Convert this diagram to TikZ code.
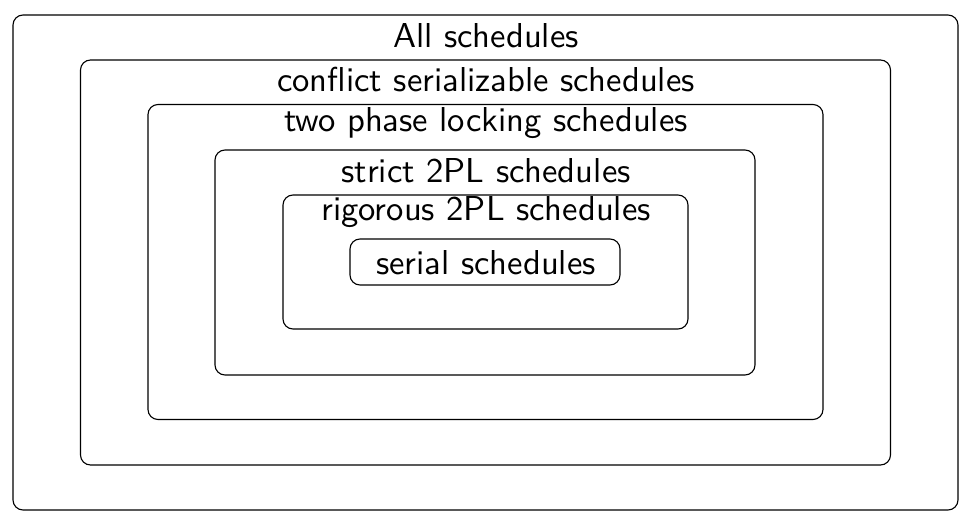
\documentclass[tikz,border=0pt]{standalone}
\renewcommand{\familydefault}{\sfdefault}
\begin{document}
\begin{tikzpicture}[x=1bp,y=-1bp,
  setbox/.style={draw, rounded corners=10bp, line width=1.1bp},
  setlabel/.style={font=\normalsize\sffamily, scale=3.47, inner sep=0pt, anchor=base}]
\useasboundingbox (0,0) rectangle (975,520);
% nested sets of schedules, outermost first
\draw[setbox] (13,15) rectangle (958,510);
\draw[setbox] (80.5,60) rectangle (890.5,465);
\draw[setbox] (148,104.5) rectangle (823,419.5);
\draw[setbox] (215,150) rectangle (755,375);
\draw[setbox] (283,195) rectangle (688,329);
\node[setbox, minimum width=270bp, minimum height=46bp, inner sep=0pt] (serial) at (485,262) {};
% labels
\node[setlabel] (lall) at (486,48) {All schedules};
\node[setlabel] (lcs) at (486,92) {conflict serializable schedules};
\node[setlabel] (ltpl) at (486,132) {two phase locking schedules};
\node[setlabel] (lstrict) at (486,183) {strict 2PL schedules};
\node[setlabel] (lrig) at (486,221) {rigorous 2PL schedules};
\node[setlabel] (lserial) at (486,275) {serial schedules};
\end{tikzpicture}
\end{document}
